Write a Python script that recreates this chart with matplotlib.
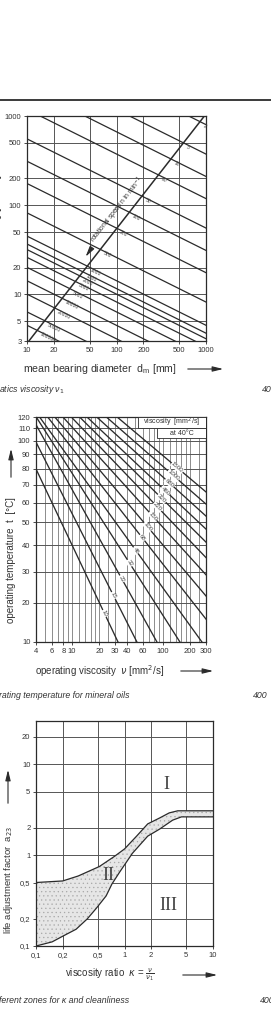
import matplotlib

matplotlib.use("Agg")

import matplotlib.pyplot as plt
import numpy as np
from matplotlib.lines import Line2D
from matplotlib.patches import FancyArrowPatch, Rectangle
from matplotlib.ticker import NullFormatter, NullLocator

plt.rcParams["font.family"] = ["Liberation Sans", "DejaVu Sans"]
plt.rcParams["mathtext.fontset"] = "dejavusans"
plt.rcParams["hatch.linewidth"] = 0.4

W, H = 271, 1013
INK = "#2b2b2b"
GRID = "#555555"
GRID_LIGHT = "#7a7a7a"
TEXT = "#333333"

# chart 1: required viscosity nu1 over mean bearing diameter
speed_labels = ["2", "5", "10", "20", "50", "100", "200", "500", "1000", "1500",
                "2000", "3000", "5000", "10000", "20000", "50000", "100000"]
nu1_at_dm10 = [8006, 3738, 2105, 1185, 554, 311, 175, 82, 45, 36.7,
               31.8, 26, 20.1, 14.2, 10.06, 6.36, 4.5]
nu1_at_dm1000 = [800, 374, 210, 118.5, 55.4, 31.1, 17.5, 8.2, 4.5, 3.67,
                 3.18, 2.6, 2.01, 1.42, 1.0, 0.64, 0.45]
speed_scale_dm = [10.5, 960]
speed_scale_nu = [3, 1000]
dm_ticks = [10, 20, 50, 100, 200, 500, 1000]
nu1_ticks = [3, 5, 10, 20, 50, 100, 200, 500, 1000]

# chart 2: viscosity-temperature lines of ISO VG grades
vg_grades = ["10", "15", "22", "32", "46", "68", "100", "150", "220", "320",
             "460", "680", "1000", "1500"]
visc_at_10c = [32.1, 51.9, 86.3, 154.8, 270.6, 473, 805, 1410, 2340, 3890,
               6300, 10200, 16500, 27500]
visc_at_120c = [2.14, 2.90, 3.59, 4.02, 4.38, 5.38, 6.45, 7.92, 9.80, 12.1,
                14.6, 18.7, 23.9, 31.4]
visc_ticks = [4, 6, 8, 10, 20, 30, 40, 60, 100, 200, 300]
visc_grid = [5, 7, 9, 12, 14, 16, 18, 25, 50, 70, 80, 90, 120, 140, 160, 180, 250]
temp_ticks = [10, 20, 30, 40, 50, 60, 70, 80, 90, 100, 110, 120]

# chart 3: life adjustment factor zones
kappa_upper = [0.1, 0.2, 0.3, 0.52, 0.77, 1.0, 1.37, 1.83, 2.5, 3.2, 4.0, 10]
a23_upper = [0.50, 0.52, 0.59, 0.75, 0.97, 1.17, 1.62, 2.21, 2.57, 2.92, 3.08, 3.08]
kappa_lower = [0.1, 0.152, 0.197, 0.284, 0.38, 0.48, 0.62, 0.72, 0.88, 1.23,
               1.83, 2.5, 3.5, 4.4, 10]
a23_lower = [0.1, 0.111, 0.127, 0.153, 0.199, 0.26, 0.356, 0.48, 0.65, 1.05,
             1.62, 1.94, 2.43, 2.64, 2.64]
kappa_ticks = [0.1, 0.2, 0.5, 1, 2, 5, 10]
kappa_tick_labels = ["0,1", "0,2", "0,5", "1", "2", "5", "10"]
a23_ticks = [0.1, 0.2, 0.5, 1, 2, 5, 10, 20]
a23_tick_labels = ["0,1", "0,2", "0,5", "1", "2", "5", "10", "20"]


fig = plt.figure(figsize=(W / 100, H / 100), dpi=100)


def axes_px(left, top, right, bottom):
    return fig.add_axes([left / W, 1 - bottom / H, (right - left) / W, (bottom - top) / H])


def fig_text(x, y, s, **kwargs):
    kwargs.setdefault("color", TEXT)
    fig.text(x / W, 1 - y / H, s, **kwargs)


def fig_arrow(x0, y0, x1, y1):
    arrow = FancyArrowPatch(
        (x0 / W, 1 - y0 / H),
        (x1 / W, 1 - y1 / H),
        transform=fig.transFigure,
        arrowstyle="-|>,head_length=0.9,head_width=0.22",
        mutation_scale=7,
        lw=0.8,
        color=INK,
    )
    fig.add_artist(arrow)


def style_axes(ax):
    for spine in ax.spines.values():
        spine.set_color(INK)
        spine.set_linewidth(0.9)
    ax.tick_params(which="major", direction="out", length=2.5, width=0.6,
                   color=INK, labelsize=5.5, labelcolor=TEXT, pad=1.5)
    ax.set_axisbelow(True)


def crossing(ax, a0, a1, b0, b1):
    """Crossing of two segments given in data coordinates, found in display space."""
    trans = ax.transData
    p0, p1, q0, q1 = (trans.transform(p) for p in (a0, a1, b0, b1))
    d1 = p1 - p0
    d2 = q1 - q0
    w = q0 - p0
    s = (w[0] * d2[1] - w[1] * d2[0]) / (d1[0] * d2[1] - d1[1] * d2[0])
    hit = p0 + s * d1
    angle = np.degrees(np.arctan2(d1[1], d1[0]))
    return trans.inverted().transform(hit), angle


# rule across the page
fig.add_artist(Line2D([0, 1], [1 - 100 / H] * 2, transform=fig.transFigure,
                      color=INK, lw=1.3))

# ---------------- chart 1 ----------------
ax1 = axes_px(27, 116, 206, 341)
ax1.set_xscale("log")
ax1.set_yscale("log")
ax1.set_xlim(10, 1000)
ax1.set_ylim(3, 1000)
ax1.set_xticks(dm_ticks, [str(v) for v in dm_ticks])
ax1.set_yticks(nu1_ticks, [str(v) for v in nu1_ticks])
ax1.xaxis.set_minor_locator(NullLocator())
ax1.yaxis.set_minor_locator(NullLocator())
style_axes(ax1)
ax1.grid(True, which="major", color=GRID, lw=0.7)

for nu_a, nu_b in zip(nu1_at_dm10, nu1_at_dm1000):
    ax1.plot([10, 1000], [nu_a, nu_b], color=INK, lw=0.9)
ax1.plot(speed_scale_dm, speed_scale_nu, color=INK, lw=1.1)

scale_a = (speed_scale_dm[0], speed_scale_nu[0])
scale_b = (speed_scale_dm[1], speed_scale_nu[1])
for label, nu_a, nu_b in zip(speed_labels, nu1_at_dm10, nu1_at_dm1000):
    hit, angle = crossing(ax1, (10, nu_a), (1000, nu_b), scale_a, scale_b)
    ax1.annotate(label, xy=hit, xytext=(3, -1), textcoords="offset points",
                 rotation=angle, rotation_mode="anchor", ha="left", va="top",
                 fontsize=3.6, color="#444444", annotation_clip=False)

p_lo = ax1.transData.transform(scale_a)
p_hi = ax1.transData.transform(scale_b)
scale_angle = np.degrees(np.arctan2(p_hi[1] - p_lo[1], p_hi[0] - p_lo[0]))
fig_text(118, 210, "rotational speed n in min$^{-1}$", fontsize=4.8,
         rotation=scale_angle, rotation_mode="anchor", ha="center", va="center")
fig_arrow(91, 249, 84, 259)

fig_text(-3, 200, "ν$_1$ [mm$^2$/s]", fontsize=7.5, rotation=90,
         ha="center", va="center")
fig_text(100, 369, "mean bearing diameter  d$_\\mathregular{m}$ [mm]", fontsize=7.6,
         ha="center", va="center")
fig_arrow(185, 369, 226, 369)
fig_text(-1, 390, "atics viscosity ν$_1$", fontsize=6.3, style="italic",
         ha="left", va="center")
fig_text(262, 390, "400", fontsize=6.3, style="italic", ha="left", va="center")

# ---------------- chart 2 ----------------
def temp_fwd(t):
    return np.log10(np.asarray(t, dtype=float) + 27)


def temp_inv(v):
    return 10 ** np.asarray(v, dtype=float) - 27


ax2 = axes_px(36, 417, 206, 642)
ax2.set_xscale("log")
ax2.set_yscale("function", functions=(temp_fwd, temp_inv))
ax2.set_xlim(4, 300)
ax2.set_ylim(10, 120)
ax2.set_xticks(visc_ticks, [str(v) for v in visc_ticks])
ax2.set_xticks(visc_grid, minor=True)
ax2.xaxis.set_minor_formatter(NullFormatter())
ax2.set_yticks(temp_ticks, [str(v) for v in temp_ticks])
ax2.yaxis.set_minor_locator(NullLocator())
style_axes(ax2)
ax2.tick_params(which="minor", length=0)
ax2.grid(True, axis="x", which="both", color=GRID_LIGHT, lw=0.6)
ax2.grid(True, axis="y", which="major", color=GRID, lw=0.7)

for v10, v120 in zip(visc_at_10c, visc_at_120c):
    ax2.plot([v10, v120], [10, 120], color=INK, lw=0.95, zorder=2)

guide_a = (24.3, 18.5)
guide_b = (155, 84.6)
for label, v10, v120 in zip(vg_grades, visc_at_10c, visc_at_120c):
    hit, angle = crossing(ax2, (v10, 10), (v120, 120), guide_a, guide_b)
    ax2.text(hit[0], hit[1], label, fontsize=4.4, color="#444444",
             rotation=angle - 180, rotation_mode="anchor", ha="center", va="center",
             zorder=4, bbox=dict(fc="white", ec="none", pad=0.3))

ax2.add_patch(Rectangle((53.3, 110), 300 - 53.3, 10, fc="white", ec=INK,
                        lw=0.6, zorder=3))
ax2.add_patch(Rectangle((86.3, 102), 300 - 86.3, 8, fc="white", ec=INK,
                        lw=0.6, zorder=3))
ax2.text(126, 115, "viscosity  [mm$^2$/s]", fontsize=5.1, color=TEXT,
         ha="center", va="center", zorder=5)
ax2.text(161, 106, "at 40°C", fontsize=5.1, color=TEXT,
         ha="center", va="center", zorder=5)

fig_text(11, 560, "operating temperature  t  [°C]", fontsize=7, rotation=90,
         ha="center", va="center")
fig_arrow(11, 480, 11, 446)
fig_text(100, 671, "operating viscosity  $\\nu$ [mm$^2$/s]", fontsize=7,
         ha="center", va="center")
fig_arrow(178, 671, 216, 671)
fig_text(-1, 695, "rating temperature for mineral oils", fontsize=6.3,
         style="italic", ha="left", va="center")
fig_text(253, 695, "400", fontsize=6.3, style="italic", ha="left", va="center")

# ---------------- chart 3 ----------------
ax3 = axes_px(36, 721, 213, 946)
ax3.set_xscale("log")
ax3.set_yscale("log")
ax3.set_xlim(0.1, 10)
ax3.set_ylim(0.1, 30)
ax3.set_xticks(kappa_ticks, kappa_tick_labels)
ax3.set_yticks(a23_ticks, a23_tick_labels)
ax3.xaxis.set_minor_locator(NullLocator())
ax3.yaxis.set_minor_locator(NullLocator())
style_axes(ax3)
ax3.grid(True, which="major", color=GRID, lw=0.7)

zone_x = np.r_[kappa_upper, kappa_lower[::-1]]
zone_y = np.r_[a23_upper, a23_lower[::-1]]
ax3.fill(zone_x, zone_y, fc="#e6e6e6", ec="#a8a8a8", lw=0, hatch="....", zorder=1.5)
ax3.plot(kappa_upper, a23_upper, color=INK, lw=0.9, zorder=3)
ax3.plot(kappa_lower, a23_lower, color=INK, lw=0.9, zorder=3)

ax3.text(3.0, 6.0, "I", family="Liberation Serif", fontsize=13, color="#444444",
         ha="center", va="center")
ax3.text(0.66, 0.59, "II", family="Liberation Serif", fontsize=13, color="#444444",
         ha="center", va="center")
ax3.text(3.1, 0.28, "III", family="Liberation Serif", fontsize=13, color="#444444",
         ha="center", va="center")

fig_text(9, 880, "life adjustment factor  a$_{23}$", fontsize=6.8, rotation=90,
         ha="center", va="center")
fig_arrow(8, 806, 8, 767)
fig_text(110, 975, "viscosity ratio  $\\kappa$ = $\\frac{\\nu}{\\nu_1}$", fontsize=7,
         ha="center", va="center")
fig_arrow(180, 975, 220, 975)
fig_text(-1, 1000, "ferent zones for κ and cleanliness", fontsize=6.3,
         style="italic", ha="left", va="center")
fig_text(260, 1000, "400", fontsize=6.3, style="italic", ha="left", va="center")

fig.savefig("out.png", dpi=100)
plt.close(fig)
